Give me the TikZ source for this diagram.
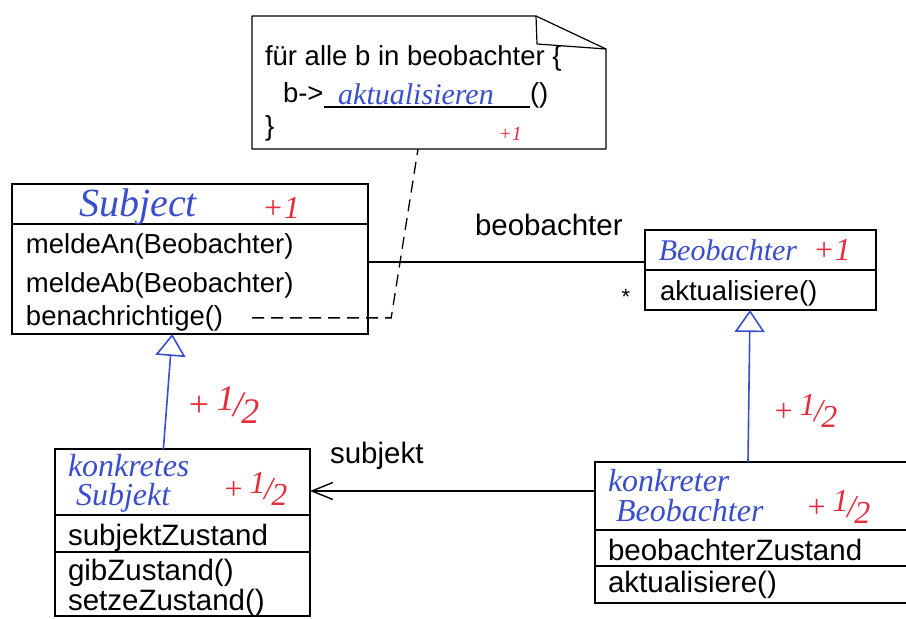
\documentclass[tikz,border=0pt]{standalone}
\usepackage{fontspec}
\setmainfont{Liberation Sans}
\newfontfamily\handfont{Liberation Serif}
\usetikzlibrary{calc,arrows.meta}
\definecolor{inkblue}{RGB}{58,78,205}
\definecolor{inkred}{RGB}{230,45,60}
\newcommand{\halfpt}{+\,\raisebox{0.4ex}{1}\kern-0.05em/\kern-0.05em\raisebox{-0.4ex}{2}}

\begin{document}
\begin{tikzpicture}[x=1pt,y=-1pt,every node/.style={outer sep=0pt,inner sep=0pt}]

\useasboundingbox (0,0) rectangle (906,619);

\tikzstyle{classbox}=[draw,line width=1.6pt,anchor=north west]
\tikzstyle{member}=[anchor=base west,font=\fontsize{27.5}{32}\selectfont]
\tikzstyle{bigmember}=[anchor=base west,font=\fontsize{29.5}{34}\selectfont]
\tikzstyle{hand}=[text=inkblue,font=\handfont\itshape\fontsize{32}{32}\selectfont]
\tikzstyle{score}=[text=inkred,font=\handfont\itshape\fontsize{32}{32}\selectfont]
\tikzstyle{notebox}=[line width=1.2pt,line join=round]
\tikzstyle{notelink}=[dashed,dash pattern=on 12pt off 7pt,line width=1.3pt]
\tikzstyle{assocline}=[line width=1.4pt]
\tikzstyle{genarrow}=[draw=inkblue,line width=1.6pt,-{Triangle[open,length=22pt,width=30pt]}]

% note
\node (note) at (252,16) [anchor=north west,minimum width=354pt,minimum height=133pt] {};
\draw[notebox] (note.south west) -- (note.north west) -- ([xshift=-70pt]note.north east) -- ([yshift=-33pt]note.north east) -- (note.south east) -- cycle;
\draw[notebox] ([xshift=-70pt]note.north east) -- ([xshift=-69pt,yshift=-28pt]note.north east) -- ([yshift=-33pt]note.north east);
\node (notel1) at (265,65) [member] {für alle b in beobachter \{};
\node (notel2) at (283,102) [member] {b->};
\node (notecall) at (530,102) [member] {()};
\node (notel3) at (265,135) [member] {\}};
\draw[line width=1.2pt] ([yshift=-5pt]notel2.base east) -- ([yshift=-5pt]notecall.base west);
\node (notename) at (416,104) [hand,anchor=base,font=\handfont\itshape\fontsize{30}{30}\selectfont] {aktualisieren};
\node (notescore) at (510,134) [score,font=\handfont\itshape\fontsize{20}{20}\selectfont] {+1};

% Subject
\node (subjhead) at (12,184) [classbox,minimum width=356pt,minimum height=40pt] {};
\node (subjops) at (subjhead.south west) [classbox,minimum width=356pt,minimum height=110pt] {};
\node (subjname) at (138,207) [hand,font=\handfont\itshape\fontsize{40}{40}\selectfont] {Subject};
\node (subjscore) at (281,208) [score] {+1};
\node (subjop1) at (26,253) [member] {meldeAn(Beobachter)};
\node (subjop2) at (26,292) [member] {meldeAb(Beobachter)};
\node (subjop3) at (26,325) [member] {benachrichtige()};

% Beobachter
\node (beohead) at (645,230) [classbox,minimum width=231pt,minimum height=40pt] {};
\node (beoops) at (beohead.south west) [classbox,minimum width=231pt,minimum height=40pt] {};
\node (beoname) at (728,250) [hand,font=\handfont\itshape\fontsize{30}{30}\selectfont] {Beobachter};
\node (beoscore) at (832,250) [score] {+1};
\node (beoop1) at (660,300) [member] {aktualisiere()};

% konkretes Subjekt
\node (ksubjhead) at (55,449) [classbox,minimum width=255pt,minimum height=66pt] {};
\node (ksubjattr) at (ksubjhead.south west) [classbox,minimum width=255pt,minimum height=37pt] {};
\node (ksubjops) at (ksubjattr.south west) [classbox,minimum width=255pt,minimum height=64pt] {};
\node (ksubjname1) at (68,476) [hand,anchor=base west] {konkretes};
\node (ksubjname2) at (76,505) [hand,anchor=base west] {Subjekt};
\node (ksubjscore) at (255,489) [score] {\halfpt};
\node (ksubjattr1) at (68,545) [bigmember] {subjektZustand};
\node (ksubjop1) at (68,580) [bigmember] {gibZustand()};
\node (ksubjop2) at (68,610) [bigmember] {setzeZustand()};

% konkreter Beobachter
\node (kbeohead) at (595,462) [classbox,minimum width=320pt,minimum height=68pt] {};
\node (kbeoattr) at (kbeohead.south west) [classbox,minimum width=320pt,minimum height=36pt] {};
\node (kbeoops) at (kbeoattr.south west) [classbox,minimum width=320pt,minimum height=37pt] {};
\node (kbeoname1) at (608,491) [hand,anchor=base west] {konkreter};
\node (kbeoname2) at (616,521) [hand,anchor=base west] {Beobachter};
\node (kbeoscore) at (838,507) [score] {\halfpt};
\node (kbeoattr1) at (608,560) [bigmember] {beobachterZustand};
\node (kbeoop1) at (608,592) [bigmember] {aktualisiere()};

% associations
\coordinate (assoc) at ([yshift=-12pt]beohead.west);
\draw[assocline] (assoc -| subjops.east) -- (assoc);
\node (lblbeo) at (475,235) [bigmember] {beobachter};
\node (star) at (626,297) [font=\fontsize{22}{22}\selectfont] {*};

\coordinate (sbj) at ([yshift=5pt]kbeohead.west);
\draw[assocline,-{Straight Barb[length=21pt,width=17pt]}] (sbj) -- (sbj -| ksubjhead.east);
\node (lblsubj) at (330,463) [bigmember] {subjekt};

\coordinate (dashbend) at ([xshift=168pt]subjop3.east);
\coordinate (notept) at ([xshift=166pt]note.south west);
\draw[notelink] ([xshift=29pt]subjop3.east) -- (dashbend) -- (notept);

% generalizations
\draw[genarrow] ($(ksubjhead.north west)!0.425!(ksubjhead.north east)$) -- ($(subjops.south west)!0.45!(subjops.south east)$);
\node (gen1score) at (223,405) [score,font=\handfont\itshape\fontsize{36}{36}\selectfont] {\halfpt};
\draw[genarrow] ([xshift=153pt]kbeohead.north west) -- ([xshift=105pt]beoops.south west);
\node (gen2score) at (805,411) [score] {\halfpt};

\end{tikzpicture}
\end{document}
